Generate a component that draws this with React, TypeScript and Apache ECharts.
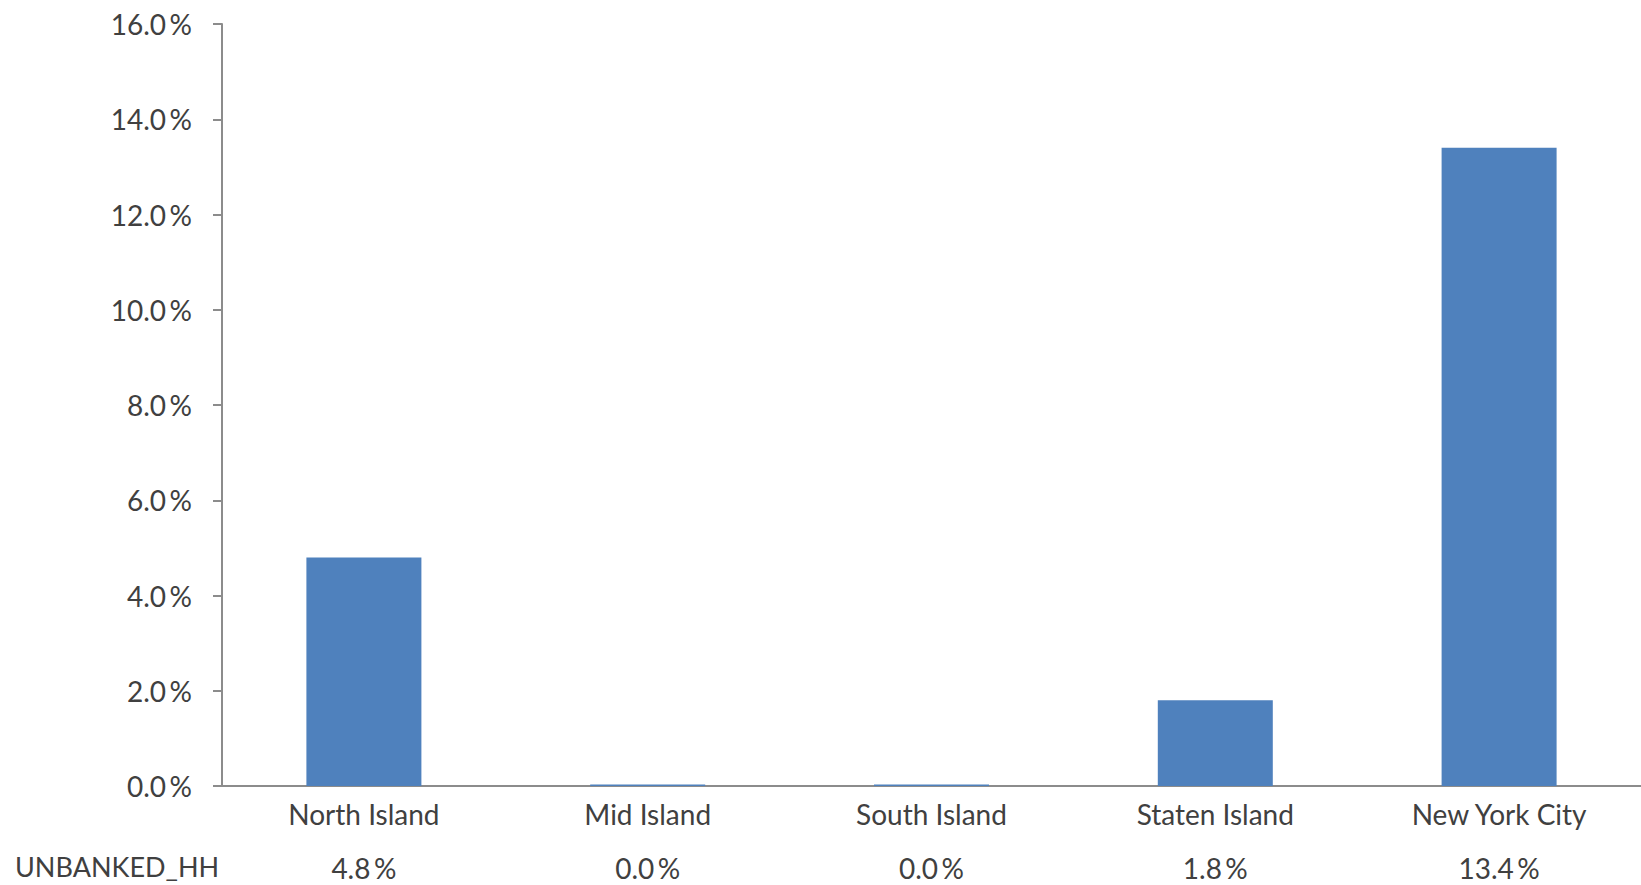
import React, { useEffect, useRef } from "react";
import * as echarts from "echarts";

const categories = ["North Island", "Mid Island", "South Island", "Staten Island", "New York City"];
const unbankedHH = [4.8, 0.03, 0.03, 1.8, 13.4];
const seriesName = "UNBANKED_HH";
const yTicks = { min: 0, max: 16, interval: 2 };

const FONT = "Lato";
const TEXT = "#404040";
const FS = 28;
const pct = (v: number) => v.toFixed(1) + "\u2009%";

export default function App() {
  const ref = useRef<HTMLDivElement>(null);
  useEffect(() => {
    if (!ref.current) return;
    const chart = echarts.init(ref.current, null, { renderer: "svg" });
    const tableRow = unbankedHH.map(pct);
    chart.setOption({
      animation: false,
      backgroundColor: "#ffffff",
      grid: { left: 222, right: 0, top: 24, bottom: 99, containLabel: false },
      xAxis: [
        {
          type: "category",
          data: categories,
          axisLine: { lineStyle: { color: "#8c8c8c", width: 2 } },
          axisTick: { show: false },
          axisLabel: { color: TEXT, fontFamily: FONT, fontSize: FS, margin: 14 },
        },
        {
          type: "category",
          data: tableRow,
          position: "bottom",
          offset: 54,
          axisLine: { show: false },
          axisTick: { show: false },
          axisLabel: { color: TEXT, fontFamily: FONT, fontSize: FS, margin: 14 },
        },
      ],
      yAxis: {
        type: "value",
        min: yTicks.min,
        max: yTicks.max,
        interval: yTicks.interval,
        axisLine: { show: true, lineStyle: { color: "#8c8c8c", width: 2 } },
        axisTick: { show: true, length: 9, lineStyle: { color: "#8c8c8c", width: 2 } },
        splitLine: { show: false },
        axisLabel: {
          color: TEXT,
          fontFamily: FONT,
          fontSize: FS,
          margin: 30,
          formatter: (v: number) => pct(v),
        },
      },
      graphic: [
        {
          type: "text",
          left: 15,
          top: 853,
          style: { text: seriesName, fill: TEXT, font: `${FS - 1}px ${FONT}` },
        },
      ],
      series: [
        {
          name: seriesName,
          type: "bar",
          data: unbankedHH,
          barWidth: 115,
          itemStyle: { color: "#4F81BD" },
        },
      ],
    });
    return () => chart.dispose();
  }, []);
  return (
    <div
      ref={ref}
      style={{ position: "fixed", left: 0, top: 0, width: 1641, height: 885 }}
    />
  );
}
